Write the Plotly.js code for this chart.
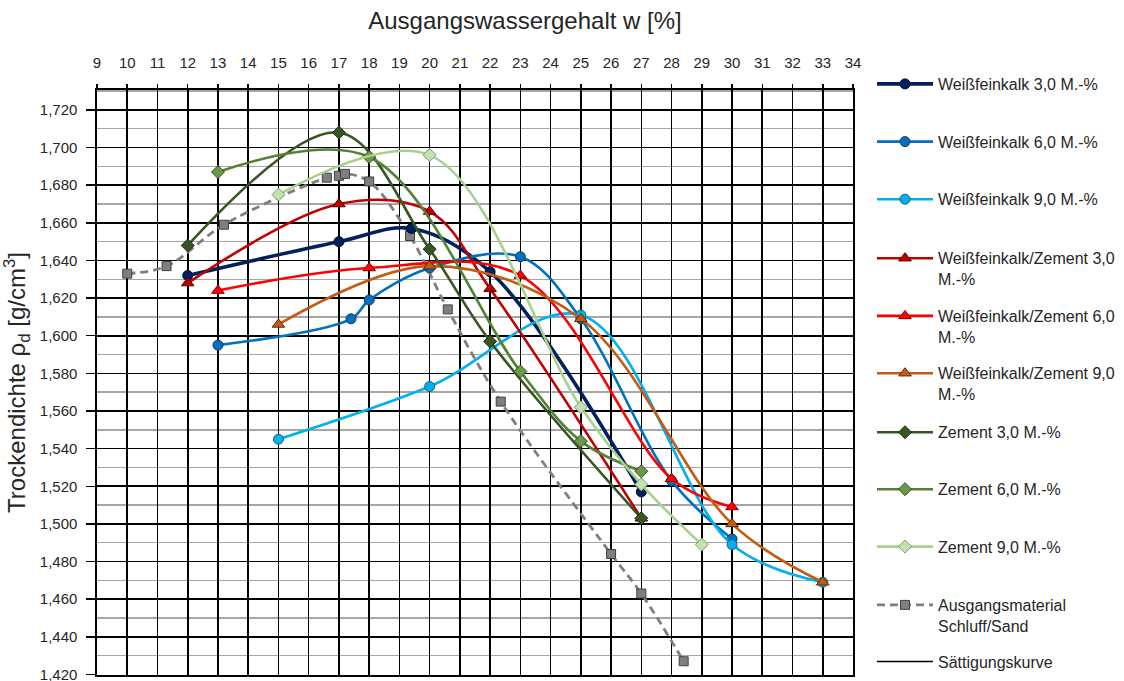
<!DOCTYPE html>
<html>
<head>
<meta charset="utf-8">
<script src="https://cdn.plot.ly/plotly-3.0.1.min.js"></script>
<style>
  html, body { margin: 0; padding: 0; background: #fff; }
  #chart { width: 1124px; height: 681px; }
</style>
</head>
<body>
<div id="chart"></div>
<script>
// Proctor-Kurven: Trockendichte über Ausgangswassergehalt
const wfk3X = [12, 17, 19.4, 22, 27];
const wfk3Y = [1.632, 1.650, 1.657, 1.634, 1.517];

const wfk6X = [13, 17.4, 18, 20, 23, 25, 28, 30];
const wfk6Y = [1.595, 1.609, 1.619, 1.636, 1.642, 1.609, 1.523, 1.492];

const wfk9X = [15, 20, 25, 30, 33];
const wfk9Y = [1.545, 1.573, 1.611, 1.489, 1.469];

const wfkZ3X = [12, 17, 20, 22, 27];
const wfkZ3Y = [1.628, 1.670, 1.666, 1.625, 1.503];

const wfkZ6X = [13, 18, 23, 28, 30];
const wfkZ6Y = [1.624, 1.636, 1.632, 1.524, 1.509];

const wfkZ9X = [15, 20, 25, 30, 33];
const wfkZ9Y = [1.606, 1.637, 1.609, 1.500, 1.469];

const z3X = [12, 17, 20, 22, 27];
const z3Y = [1.648, 1.708, 1.646, 1.597, 1.503];

const z6X = [13, 18, 23, 25, 27];
const z6Y = [1.687, 1.695, 1.581, 1.544, 1.528];

const z9X = [15, 20, 25, 27, 29];
const z9Y = [1.675, 1.696, 1.562, 1.521, 1.489];

const basisX = [10, 11.3, 13.2, 16.6, 17, 17.2, 18, 19.35, 20.6, 22.35, 26, 27, 28.4];
const basisY = [1.633, 1.637, 1.659, 1.684, 1.685, 1.686, 1.682, 1.653, 1.614, 1.565, 1.484, 1.463, 1.427];

// Sättigungskurve: keine Messpunkte im dargestellten Bereich
const saettX = [null];
const saettY = [null];

const seriesNames = [
  'Weißfeinkalk 3,0 M.-%',
  'Weißfeinkalk 6,0 M.-%',
  'Weißfeinkalk 9,0 M.-%',
  'Weißfeinkalk/Zement 3,0<br>M.-%',
  'Weißfeinkalk/Zement 6,0<br>M.-%',
  'Weißfeinkalk/Zement 9,0<br>M.-%',
  'Zement 3,0 M.-%',
  'Zement 6,0 M.-%',
  'Zement 9,0 M.-%',
  'Ausgangsmaterial<br>Schluff/Sand',
  'Sättigungskurve'
];

const xTicks = [9, 10, 11, 12, 13, 14, 15, 16, 17, 18, 19, 20, 21, 22, 23, 24, 25, 26, 27, 28, 29, 30, 31, 32, 33, 34];
const yTicks = [1.42, 1.44, 1.46, 1.48, 1.50, 1.52, 1.54, 1.56, 1.58, 1.60, 1.62, 1.64, 1.66, 1.68, 1.70, 1.72];
const yTickText = ['1,420', '1,440', '1,460', '1,480', '1,500', '1,520', '1,540', '1,560', '1,580', '1,600', '1,620', '1,640', '1,660', '1,680', '1,700', '1,720'];

const FONT = 'Liberation Sans, Arial, sans-serif';
const TXT = '#262626';

function curve(x, y, name, color, width, symbol, fill, edge, size, dash) {
  const t = {
    type: 'scatter',
    mode: symbol ? 'lines+markers' : 'lines',
    x: x, y: y, name: name,
    line: { color: color, width: width, shape: 'spline', smoothing: 1.0, dash: dash || 'solid' },
    cliponaxis: false
  };
  if (symbol) {
    t.marker = { symbol: symbol, size: size, color: fill, line: { color: edge, width: 1 } };
  }
  return t;
}

const traces = [
  curve(basisX, basisY, seriesNames[9], '#7f7f7f', 2.8, 'square', '#7f7f7f', '#404040', 9, '8px,5px'),
  curve(wfk3X, wfk3Y, seriesNames[0], '#002060', 3.6, 'circle', '#002060', '#000a20', 10),
  curve(wfk6X, wfk6Y, seriesNames[1], '#0070c0', 2.6, 'circle', '#0070c0', '#1f3b5a', 10),
  curve(wfk9X, wfk9Y, seriesNames[2], '#00b0f0', 2.6, 'circle', '#00b0f0', '#245e78', 10),
  curve(wfkZ3X, wfkZ3Y, seriesNames[3], '#c00000', 2.6, 'triangle-up', '#c00000', '#5a0000', 11),
  curve(wfkZ6X, wfkZ6Y, seriesNames[4], '#ff0000', 2.6, 'triangle-up', '#ff0000', '#7f0000', 11),
  curve(wfkZ9X, wfkZ9Y, seriesNames[5], '#c55a11', 2.6, 'triangle-up', '#c55a11', '#5f2a06', 11),
  curve(z3X, z3Y, seriesNames[6], '#375623', 2.6, 'diamond', '#375623', '#1e3012', 10),
  curve(z6X, z6Y, seriesNames[7], '#548235', 2.6, 'diamond', '#6a9a45', '#2f4a1c', 10),
  curve(z9X, z9Y, seriesNames[8], '#a9d18e', 2.6, 'diamond', '#c5e0b4', '#7a9e63', 10),
  curve(saettX, saettY, seriesNames[10], '#000000', 1.5, null)
];

// one legend box per entry, stacked down the right-hand side
const legendCenters = [84, 141.7, 199.3, 258.3, 316, 373.3, 432.3, 489.3, 546.7, 605, 661.7];
const legendOrder = [1, 2, 3, 4, 5, 6, 7, 8, 9, 0, 10];

const plotTop = 90, plotBottom = 675, plotLeft = 97, plotRight = 853;
const layout = {
  width: 1124, height: 681,
  margin: { l: plotLeft, r: 1124 - plotRight, t: plotTop, b: 681 - plotBottom, pad: 0, autoexpand: false },
  paper_bgcolor: '#ffffff',
  plot_bgcolor: '#ffffff',
  font: { family: FONT, color: TXT },
  title: {
    text: 'Ausgangswassergehalt w [%]',
    x: 525 / 1124, xanchor: 'center', xref: 'container',
    y: 1 - 21 / 681, yanchor: 'middle', yref: 'container',
    font: { family: FONT, size: 24, color: TXT },
    automargin: false
  },
  xaxis: {
    side: 'top',
    range: [9, 34],
    tickvals: xTicks,
    ticktext: xTicks.map(String),
    ticks: 'outside', ticklen: 4, tickwidth: 1.5, tickcolor: '#000',
    tickfont: { family: FONT, size: 15, color: TXT },
    ticklabelstandoff: 10,
    showgrid: true, gridcolor: '#000000', gridwidth: 1.6,
    showline: true, linecolor: '#000', linewidth: 1.6, mirror: true,
    zeroline: false, fixedrange: true, automargin: false
  },
  yaxis: {
    range: [1.4197, 1.7306],
    tickvals: yTicks,
    ticktext: yTickText,
    ticklabeloverflow: 'allow',
    ticks: 'outside', ticklen: 9, tickwidth: 1.5, tickcolor: '#000',
    tickfont: { family: FONT, size: 15, color: TXT },
    ticklabelstandoff: 6,
    showgrid: true, gridcolor: '#000000', gridwidth: 1.6,
    minor: { dtick: 0.01, tick0: 1.42, showgrid: true, gridcolor: '#a6a6a6', gridwidth: 1.4, ticks: '' },
    showline: true, linecolor: '#000', linewidth: 1.6, mirror: true,
    zeroline: false, fixedrange: true, automargin: false,
    title: {
      text: 'Trockendichte ρ<sub>d</sub> [g/cm<sup>3</sup>]',
      font: { family: FONT, size: 24, color: TXT },
      standoff: 8
    }
  },
  showlegend: true
};

legendOrder.forEach(function (traceIdx, k) {
  const key = k === 0 ? 'legend' : 'legend' + (k + 1);
  traces[traceIdx].legend = key;
  traces[traceIdx].showlegend = true;
  layout[key] = {
    x: (872 - plotLeft) / (plotRight - plotLeft),
    xanchor: 'left',
    y: (plotBottom - (legendCenters[k] - 17)) / (plotBottom - plotTop),
    yanchor: 'top',
    valign: 'top',
    bgcolor: 'rgba(0,0,0,0)',
    borderwidth: 0,
    itemwidth: 56,
    font: { family: FONT, size: 16, color: TXT }
  };
});

Plotly.newPlot('chart', traces, layout, { displayModeBar: false, staticPlot: true });
</script>
</body>
</html>
